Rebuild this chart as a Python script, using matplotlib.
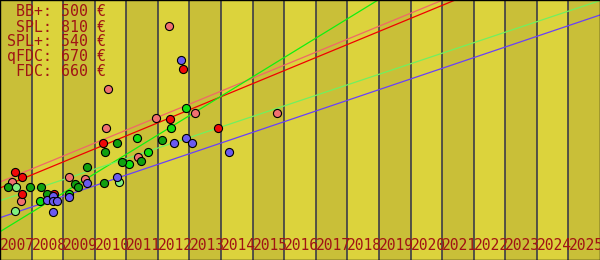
import numpy as np
import matplotlib
matplotlib.use('Agg')
import matplotlib.pyplot as plt

# legend entries (product: price)
names = ['BB+', 'SPL', 'SPL+', 'qFDC', 'FDC']
prices = [500, 810, 540, 670, 660]

years = list(range(2007, 2026))

# scatter points per group: (year, value)
salmon_x = [2007.39, 2007.67, 2009.19, 2009.70, 2010.37, 2010.43, 2011.38, 2011.95, 2012.36, 2013.18, 2015.78]
salmon_y = [78, 58.7, 82.7, 80.7, 131.7, 170.7, 102.7, 141.7, 234, 146.7, 146.7]

red_x = [2007.47, 2007.71, 2007.71, 2008.72, 2010.27, 2012.39, 2012.80, 2013.91]
red_y = [87.7, 82.7, 65.7, 66.5, 116.7, 140.7, 190.7, 131.7]

bright_x = [2008.28, 2009.20, 2011.09, 2011.35, 2011.70, 2012.42, 2012.90]
bright_y = [58.7, 66, 95.7, 121.7, 107.7, 131.7, 151.7]

dark_x = [2007.26, 2007.96, 2008.31, 2008.50, 2009.38, 2009.46, 2009.76, 2010.30, 2010.33,
          2010.71, 2010.87, 2011.48, 2012.14]
dark_y = [73.3, 73.3, 73.3, 66, 75.7, 73.3, 92.7, 76.7, 107.7, 116.7, 97.7, 99.5, 120.5]

light_x = [2007.52, 2007.47, 2010.78]
light_y = [73.3, 48.7, 77.7]

blue_x = [2008.50, 2008.69, 2008.69, 2008.80, 2008.69, 2009.19, 2009.76, 2010.71, 2012.52,
          2012.90, 2013.09, 2012.74, 2014.26]
blue_y = [60.5, 63.7, 59, 59, 48.5, 63.2, 77.3, 82.7, 116.7, 121.7, 116.7, 199.7, 107.7]

# trend lines: value at 2007 and at 2026
trend_colors = ['#f06868', '#f00000', '#10f010', '#70f060', '#6a40f8']
trend_start = [78, 72, 28.3, 59.3, 42.3]
trend_end = [324.6, 319.8, 396, 259.4, 245]

fig = plt.figure(figsize=(6, 2.6), dpi=100)
ax = fig.add_axes([0, 0, 1, 1])
ax.set_xlim(2007, 2026)
ax.set_ylim(0, 260)

# alternating year bands
for yr in years:
    c = '#c9bf38' if yr % 2 == 1 else '#dcd33c'
    ax.axvspan(yr, yr + 1, color=c, lw=0, zorder=0)
    if yr > 2007:
        ax.axvline(yr, color='#303048', lw=1.1, zorder=1)
    ax.text(yr, 10, str(yr), ha='left', va='baseline', fontsize=10.5,
            family='DejaVu Sans Mono', color='#a01414', zorder=5)

for c, s, e in zip(trend_colors, trend_start, trend_end):
    ax.plot([2007, 2026], [s, e], color=c, lw=0.9, zorder=2)

groups = [
    (salmon_x, salmon_y, '#f07070'),
    (red_x, red_y, '#f00808'),
    (bright_x, bright_y, '#10e010'),
    (dark_x, dark_y, '#10a010'),
    (light_x, light_y, '#80f080'),
    (blue_x, blue_y, '#6a5af0'),
]
for gx, gy, c in groups:
    ax.scatter(gx, gy, s=34, c=c, edgecolors='black', linewidths=0.8, zorder=3)

for i, (n, p) in enumerate(zip(names, prices)):
    ax.text(0.176, (260 - 12 - 15 * i) / 260, f'{n}: {p} €', transform=ax.transAxes,
            ha='right', va='center', fontsize=10.7, family='DejaVu Sans Mono',
            color='#a01414', zorder=5)

ax.set_xticks([])
ax.set_yticks([])
for sp in ax.spines.values():
    sp.set_color('black')
    sp.set_linewidth(1.0)

fig.savefig('out.png', dpi=100)
